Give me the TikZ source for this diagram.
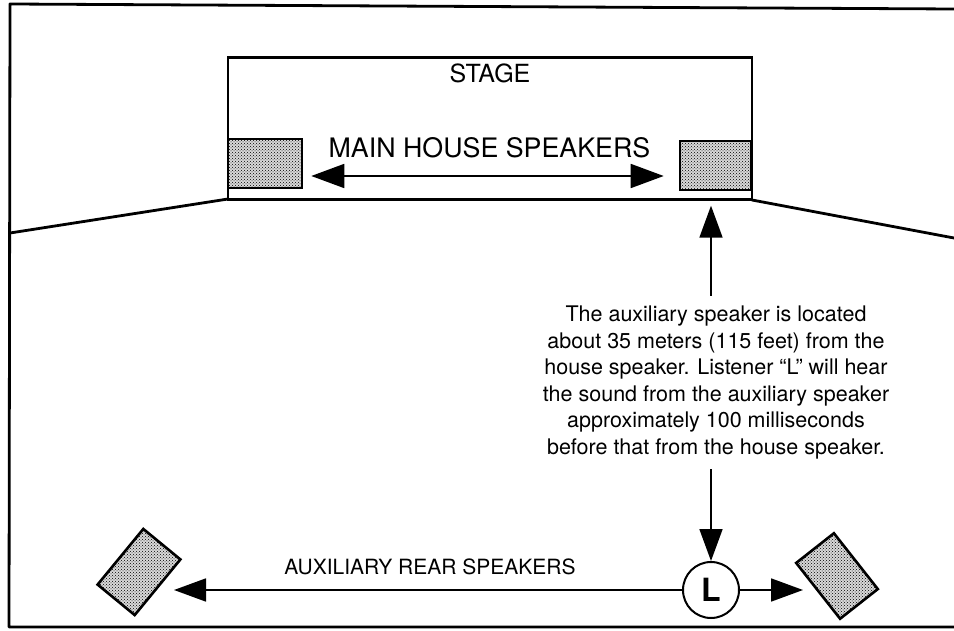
\documentclass[tikz,border=0pt]{standalone}
\usepackage{fontspec}
\setmainfont{TeX Gyre Heros}
\usetikzlibrary{positioning,arrows.meta,patterns}
\tikzset{
  wall/.style={line width=2.8pt, line cap=round, line join=round},
  stagebox/.style={draw, line width=2.4pt, inner sep=0pt},
  spk/.style={draw, line width=2.6pt, preaction={fill=gray!30}, pattern=crosshatch dots, inner sep=0pt},
  arrow/.style={-{Triangle[length=32pt, width=23pt]}, line width=1.8pt},
  dblarrow/.style={{Triangle[length=33pt, width=24pt]}-{Triangle[length=33pt, width=24pt]}, line width=1.8pt},
  listener/.style={draw, circle, line width=2pt, minimum size=56pt, inner sep=0pt,
                   font=\fontsize{32}{32}\selectfont\bfseries},
}

\begin{document}
\begin{tikzpicture}[x=1pt, y=-1pt]
  \useasboundingbox (0,0) rectangle (954,631);

  % room outline
  \draw[wall] (954,9) -- (10,4) -- (9,627) -- (954,627);
  \draw[wall] (10,233) -- (228,199);
  \draw[wall] (752,200) -- (954,238);

  % stage and house speakers
  \node[stagebox, minimum width=524pt, minimum height=142pt] (stage) at (490,128.5) {};
  \node[anchor=base, inner sep=0pt, font=\fontsize{25}{25}\selectfont] (stagelbl) at (490,83) {STAGE};
  \node[spk, minimum width=74pt, minimum height=49pt] (spkL) at (265,163.5) {};
  \node[spk, minimum width=71pt, minimum height=49pt] (spkR) at (715.5,165.5) {};
  \node[anchor=base, inner sep=0pt, font=\fontsize{26.8}{26.8}\selectfont] (mainlbl) at (489.5,158) {MAIN HOUSE SPEAKERS};
  \draw[dblarrow, shorten <=8pt, shorten >=15pt]
       ([yshift=-12.5pt]spkL.east) -- ([yshift=-12.5pt]spkL.east -| spkR.west);

  % listener and auxiliary speakers
  \node[listener] (L) at (711,590) {L};
  \node[spk, rotate=50.6, minimum width=72pt, minimum height=48pt] (auxL) at (139,572) {};
  \node[spk, rotate=-51.8, minimum width=71pt, minimum height=48pt] (auxR) at (837,576) {};
  \coordinate (tipL) at (174,590);
  \coordinate (tipR) at (803,590);
  \draw[arrow] (L.west) -- (tipL);
  \draw[arrow] (L.east) -- (tipR);
  \node[anchor=base, inner sep=0pt, font=\fontsize{21}{21}\selectfont] (auxlbl) at (430,574) {AUXILIARY REAR SPEAKERS};

  % explanation
  \node[anchor=north, inner xsep=0pt, inner ysep=10pt, align=center,
        font=\fontsize{21.5}{26.5}\selectfont] (note) at (716,296)
       {The auxiliary speaker is located\\
        about 35 meters (115 feet) from the\\
        house speaker. Listener “L” will hear\\
        the sound from the auxiliary speaker\\
        approximately 100 milliseconds\\
        before that from the house speaker.};
  \draw[arrow, shorten >=5pt] (note.north -| L.north) -- (stage.south -| L.north);
  \draw[arrow] (note.south -| L.north) -- (L.north);
\end{tikzpicture}
\end{document}
